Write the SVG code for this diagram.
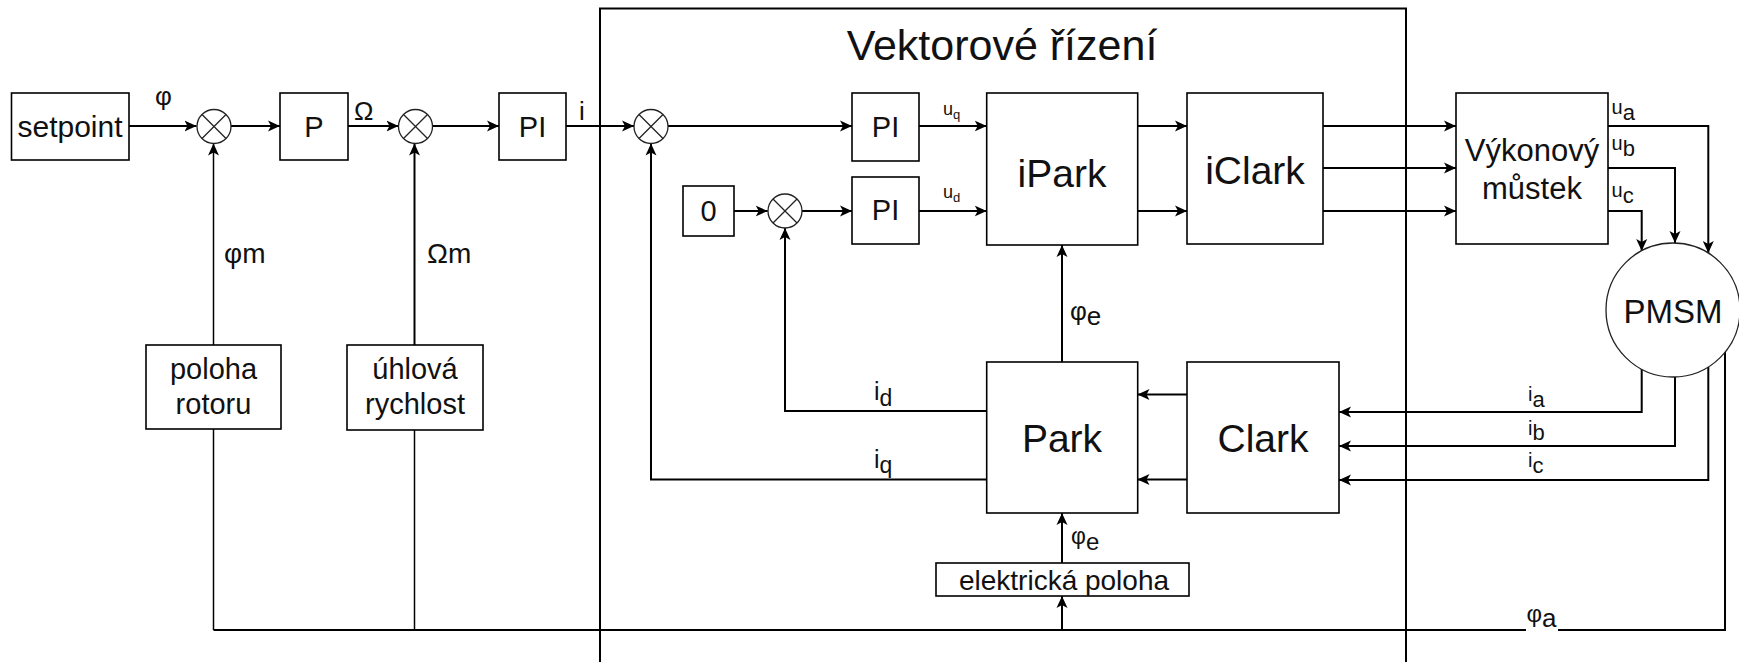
<svg xmlns="http://www.w3.org/2000/svg" width="1739" height="662" viewBox="0 0 1739 662">
<style>
.bx{fill:#fff;stroke:#000;stroke-width:1.6}
.sm{fill:#fff;stroke:#222;stroke-width:1.3}
.sx{stroke:#222;stroke-width:1.3;fill:none}
.t{font-family:"Liberation Sans",Arial,sans-serif;fill:#111;text-anchor:middle}
.l{font-family:"Liberation Sans",Arial,sans-serif;fill:#111}
.c path{fill:none;stroke:#000;stroke-width:2}
.c path.th{stroke-width:1.5}
.c path.a{marker-end:url(#arr)}
</style>
<defs>
<marker id="arr" markerUnits="userSpaceOnUse" markerWidth="13" markerHeight="12" refX="12" refY="6" orient="auto">
<path d="M0,0.5 L12,6 L0,11.5 L3,6 Z" fill="#000"/>
</marker>
</defs>
<rect width="1739" height="662" fill="#fff"/>

<g id="vektorove-rizeni">
<rect x="600" y="8.5" width="806" height="700" fill="none" stroke="#000" stroke-width="2"/>
<text class="t" x="1002" y="60" font-size="43">Vektorové řízení</text>
</g>

<g id="connectors" class="c">
<path class="a" d="M129,126 H196.5"/>
<path class="a" d="M231,126 H280"/>
<path class="a" d="M348,126 H398.5"/>
<path class="a" d="M432.5,126 H499"/>
<path class="a" d="M566,126 H634"/>
<path class="a" d="M668,126 H852"/>
<path class="a" d="M919,126 H986.7"/>
<path class="a" d="M734,211 H767.7"/>
<path class="a" d="M802,211 H852"/>
<path class="a" d="M919,211 H986.7"/>
<path class="a" d="M1137.6,126 H1187"/>
<path class="a" d="M1137.6,211 H1187"/>
<path class="a" d="M1323,126 H1456"/>
<path class="a" d="M1323,168 H1456"/>
<path class="a" d="M1323,211 H1456"/>
<path class="a" d="M1608,126 H1708.3 V253"/>
<path class="a" d="M1608,168 H1675 V243"/>
<path class="a" d="M1608,211 H1641.7 V251"/>
<path class="a" d="M1641.7,369 V412 H1339"/>
<path class="a" d="M1675,377 V446 H1339"/>
<path class="a" d="M1708.3,367 V480 H1339"/>
<path class="a" d="M1187,394.5 H1137.5"/>
<path class="a" d="M1187,479.5 H1137.5"/>
<path class="a" d="M986.7,411 H785 V228"/>
<path class="a" d="M986.7,479.5 H651 V143.5"/>
<path class="a" d="M1062,362 V245"/>
<path class="a" d="M1062,563 V513"/>
<path d="M1725,352 V630 H1558 M1526,630 H213.5"/>
<path class="th" d="M213.5,630 V429"/>
<path class="th" d="M414.5,630 V430"/>
<path class="a" d="M1062,630 V596"/>
<path class="a th" d="M213.5,345 V143.5"/>
<path class="a" d="M414.5,345 V143.5"/>
</g>

<g id="setpoint">
<rect class="bx" x="11.5" y="93" width="117.5" height="67"/>
<text class="t" x="70" y="137" font-size="30">setpoint</text>
</g>
<g id="sum1">
<circle class="sm" cx="214" cy="126.5" r="17"/>
<path class="sx" d="M202,114.5 L226,138.5 M226,114.5 L202,138.5"/>
</g>
<g id="p">
<rect class="bx" x="280" y="93" width="68" height="67"/>
<text class="t" x="314" y="137" font-size="29">P</text>
</g>
<g id="sum2">
<circle class="sm" cx="415.5" cy="126.5" r="17"/>
<path class="sx" d="M403.5,114.5 L427.5,138.5 M427.5,114.5 L403.5,138.5"/>
</g>
<g id="pi1">
<rect class="bx" x="499" y="93" width="67" height="67"/>
<text class="t" x="532.5" y="137" font-size="29">PI</text>
</g>
<g id="sum3">
<circle class="sm" cx="651" cy="126.5" r="17"/>
<path class="sx" d="M639,114.5 L663,138.5 M663,114.5 L639,138.5"/>
</g>
<g id="pi-q">
<rect class="bx" x="852" y="93" width="67" height="68"/>
<text class="t" x="885.5" y="137" font-size="29">PI</text>
</g>
<g id="zero">
<rect class="bx" x="683" y="186" width="51" height="50"/>
<text class="t" x="708.5" y="221" font-size="29">0</text>
</g>
<g id="sum4">
<circle class="sm" cx="785" cy="211" r="17"/>
<path class="sx" d="M773,199 L797,223 M797,199 L773,223"/>
</g>
<g id="pi-d">
<rect class="bx" x="852" y="177" width="67" height="67"/>
<text class="t" x="885.5" y="220" font-size="29">PI</text>
</g>
<g id="ipark">
<rect class="bx" x="986.7" y="93" width="151" height="152"/>
<text class="t" x="1062" y="187" font-size="39">iPark</text>
</g>
<g id="iclark">
<rect class="bx" x="1187" y="93" width="136" height="151"/>
<text class="t" x="1255" y="184" font-size="39">iClark</text>
</g>
<g id="vykonovy-mustek">
<rect class="bx" x="1456" y="93" width="152" height="151"/>
<text class="t" x="1532" y="161" font-size="31">Výkonový</text>
<text class="t" x="1532" y="199" font-size="31">můstek</text>
</g>
<g id="pmsm">
<circle class="sm" cx="1673" cy="310" r="67"/>
<text class="t" x="1673" y="323" font-size="33">PMSM</text>
</g>
<g id="park">
<rect class="bx" x="986.7" y="362" width="151" height="151"/>
<text class="t" x="1062" y="452" font-size="39">Park</text>
</g>
<g id="clark">
<rect class="bx" x="1187" y="362" width="152" height="151"/>
<text class="t" x="1263" y="452" font-size="39">Clark</text>
</g>
<g id="elektricka-poloha">
<rect class="bx" x="936" y="563" width="253" height="33"/>
<text class="t" x="1064" y="590" font-size="28">elektrická poloha</text>
</g>
<g id="poloha-rotoru">
<rect class="bx" x="146" y="345" width="135" height="84"/>
<text class="t" x="213.5" y="379" font-size="29">poloha</text>
<text class="t" x="213.5" y="414" font-size="29">rotoru</text>
</g>
<g id="uhlova-rychlost">
<rect class="bx" x="347" y="345" width="136" height="85"/>
<text class="t" x="415" y="379" font-size="29">úhlová</text>
<text class="t" x="415" y="414" font-size="29">rychlost</text>
</g>

<g id="labels">
<text class="l" x="155" y="105" font-size="26">φ</text>
<text class="l" x="354" y="120" font-size="26">Ω</text>
<text class="l" x="579" y="120" font-size="26">i</text>
<text class="l" x="224" y="263" font-size="28">φm</text>
<text class="l" x="427" y="263" font-size="28">Ωm</text>
<text class="l" x="943" y="115" font-size="18">u<tspan font-size="13" dy="4">q</tspan></text>
<text class="l" x="943" y="198" font-size="18">u<tspan font-size="13" dy="4">d</tspan></text>
<text class="l" x="1611.5" y="114" font-size="20">u<tspan font-size="22" dy="6">a</tspan></text>
<text class="l" x="1611.5" y="150" font-size="20">u<tspan font-size="22" dy="6">b</tspan></text>
<text class="l" x="1611.5" y="197" font-size="20">u<tspan font-size="22" dy="6">c</tspan></text>
<text class="l" x="1528" y="401" font-size="20">i<tspan font-size="22" dy="6">a</tspan></text>
<text class="l" x="1528" y="435" font-size="20">i<tspan font-size="22" dy="5">b</tspan></text>
<text class="l" x="1528" y="467" font-size="20">i<tspan font-size="22" dy="6">c</tspan></text>
<text class="l" x="874" y="400" font-size="25">i<tspan font-size="23" dy="6">d</tspan></text>
<text class="l" x="874" y="468" font-size="25">i<tspan font-size="23" dy="5">q</tspan></text>
<text class="l" x="1070" y="320" font-size="26">φ<tspan font-size="26" dy="5">e</tspan></text>
<text class="l" x="1071" y="544" font-size="23">φ<tspan font-size="24" dy="6">e</tspan></text>
<text class="l" x="1526.5" y="622" font-size="24">φ<tspan font-size="26" dy="5">a</tspan></text>
</g>
</svg>
